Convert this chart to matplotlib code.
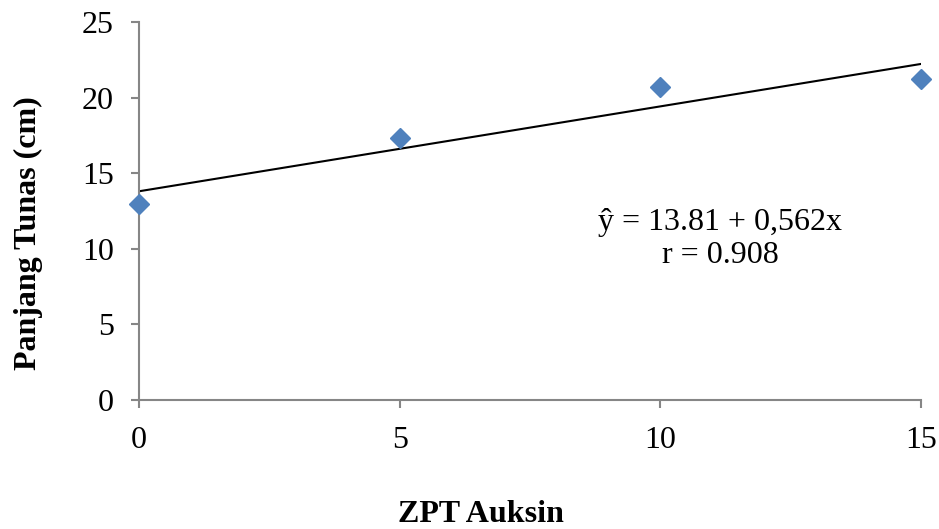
import matplotlib.pyplot as plt
import numpy as np

plt.rcParams['font.family'] = ['Liberation Serif', 'DejaVu Serif']

# shoot length against auxin dose
dose = [0, 5, 10, 15]
length = [13.0, 17.33, 20.7, 21.23]
intercept = 13.81
slope = 0.562
r_value = 0.908
x_ticks = [0, 5, 10, 15]
y_ticks = [0, 5, 10, 15, 20, 25]

fig = plt.figure(figsize=(9.39, 5.29), dpi=100)
ax = fig.add_axes([0.148, 0.244, 0.833, 0.714])

xs = np.array([dose[0], dose[-1]])
ax.plot(xs, intercept + slope * xs, color="black", lw=1.5, zorder=2)
ax.plot(dose, length, ls="none", marker="D", markersize=10,
        color="#4F81BD", zorder=3, clip_on=False)

ax.set_xlim(0, 15)
ax.set_ylim(0, 25)
ax.set_xticks(x_ticks)
ax.set_yticks(y_ticks)

for side in ["top", "right"]:
    ax.spines[side].set_visible(False)
for side in ["left", "bottom"]:
    ax.spines[side].set_color("#868686")
    ax.spines[side].set_linewidth(1.5)
ax.tick_params(axis="both", direction="out", length=6, width=1.5,
               color="#868686", labelsize=23)
ax.tick_params(axis="x", pad=13)
ax.tick_params(axis="y", pad=12)

eq = f"ŷ = {intercept:.2f} + {slope:.3f}x".replace("0.562", "0,562")
ax.text(11.15, 10.65, eq + f"\nr = {r_value:.3f}",
        fontsize=23, ha="center", va="center", linespacing=1.15)

fig.text(0.030, 0.56, "Panjang Tunas (cm)", fontsize=23, fontweight="bold",
         rotation=90, ha="center", va="center")
fig.text(0.512, 0.027, "ZPT Auksin", fontsize=23, fontweight="bold",
         ha="center", va="center")

fig.savefig("out.png", dpi=100)
